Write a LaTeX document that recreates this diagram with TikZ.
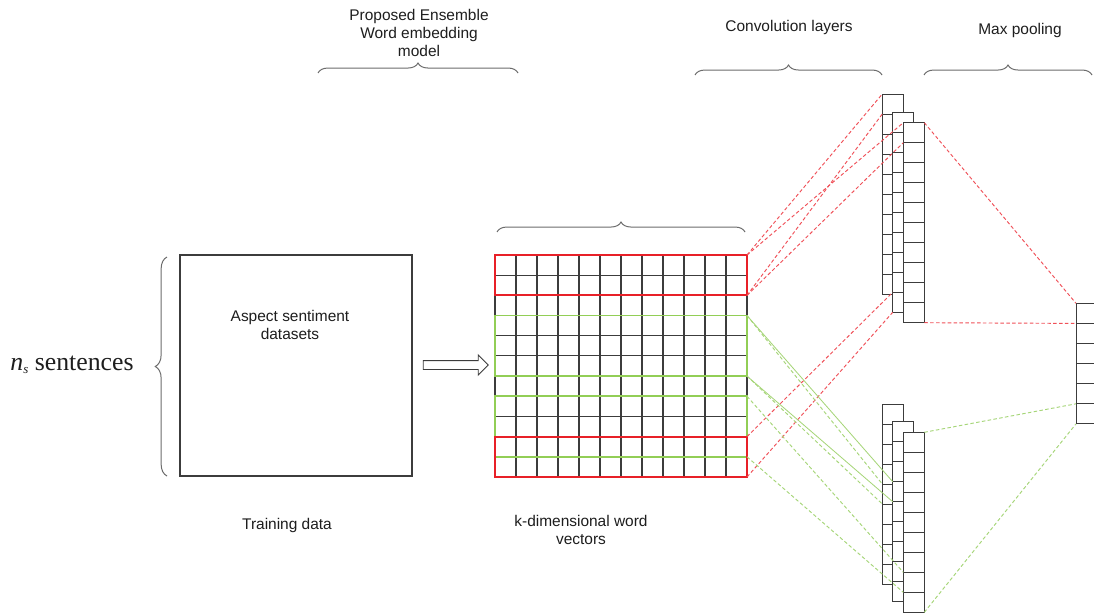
\documentclass[tikz,border=0pt]{standalone}
\usepackage{fontspec}
\setmainfont{Liberation Serif}
\setsansfont{Liberation Sans}
\usetikzlibrary{decorations.pathreplacing,shapes.arrows}
\definecolor{myred}{RGB}{232,32,40}
\definecolor{mygreen}{RGB}{146,206,86}
\definecolor{dred}{RGB}{240,80,88}
\definecolor{dgreen}{RGB}{166,214,120}
\definecolor{gridc}{RGB}{60,60,60}
\definecolor{txt}{RGB}{30,30,30}
\begin{document}
\begin{tikzpicture}[x=0.03cm,y=-0.03cm,
  lbl/.style={font=\sffamily\fontsize{13.2}{15.6}\selectfont, text=txt, align=center, inner sep=0},
  brc/.style={draw=gray!85!black, line width=0.85pt, decorate, decoration={brace,amplitude=8.5pt}},
  cellbox/.style={draw=gridc, fill=white, line width=0.85pt},
  gline/.style={draw=gridc, line width=1pt},
  redbox/.style={draw=myred, line width=1.5pt},
  greenbox/.style={draw=mygreen, line width=1.4pt},
  rdash/.style={draw=dred, dash pattern=on 3pt off 2pt, line width=0.8pt},
  gdash/.style={draw=dgreen, dash pattern=on 3pt off 2pt, line width=0.8pt},
  gsolid/.style={draw=dgreen, line width=0.7pt}]
\clip (0,0) rectangle (1094,615);
\fill[white] (0,0) rectangle (1094,615);

% ---- left: sentences, brace, training box
\node[font=\fontsize{22}{24}\selectfont, text=txt, inner sep=0] (ns) at (72,365) {\textit{n}\raisebox{-0.25ex}{\fontsize{11}{12}\selectfont\textit{s}} sentences};
\draw[brc, decoration={brace,amplitude=10pt}] (167,476) -- (167,257);
\node[draw=gridc, line width=1pt, minimum width=6.96cm, minimum height=6.63cm, inner sep=0] (train) at (296,365.5) {};
\node[lbl] (asp) at (290,325) {Aspect sentiment\\datasets};
\node[lbl] (trl) at (287,525) {Training data};

% ---- hollow arrow
\node[single arrow, draw=gridc, line width=0.8pt, fill=white, inner xsep=0pt, inner ysep=0.12cm,
      minimum height=1.95cm, minimum width=0.57cm, single arrow head extend=0.165cm] (arr) at (453.5,365) {};

% ---- matrix
\foreach \i in {0,...,12} \draw[gline] (495+21*\i,255) -- (495+21*\i,477);
\foreach \k in {0,...,11} {
  \draw[gline] (495,255+20.18*\k) -- (747,255+20.18*\k);
  \coordinate (r\k) at (747,255+20.18*\k);
  \coordinate (l\k) at (495,255+20.18*\k);
}
\draw[greenbox] (l3) rectangle (r6);
\draw[greenbox] (l7) rectangle (r10);
\draw[redbox] (l0) rectangle (r2);
\draw[redbox] (l9) rectangle (r11);
\draw[brc] (497,232) -- (745,232);
\node[lbl] (kdim) at (581,530) {k-dimensional word\\vectors};

% ---- convolution columns (top group)
\foreach \c/\x/\t in {1/882.3/94, 2/892.7/112.3, 3/903.3/122.7} {
  \foreach \k in {0,...,9} \draw[cellbox] (\x,\t+20*\k) rectangle ++(21,20);
  \foreach \k in {0,...,10} {
    \coordinate (T\c-\k) at (\x,\t+20*\k);
    \coordinate (TR\c-\k) at (\x+21,\t+20*\k);
  }
}
% ---- convolution columns (bottom group)
\foreach \c/\x/\t in {1/882.3/404, 2/892.7/421.7, 3/903.3/432.3} {
  \foreach \k in {0,...,8} \draw[cellbox] (\x,\t+20*\k) rectangle ++(21,20);
  \foreach \k in {0,...,9} {
    \coordinate (B\c-\k) at (\x,\t+20*\k);
    \coordinate (BR\c-\k) at (\x+21,\t+20*\k);
  }
}
% ---- max pooling column
\foreach \k in {0,...,5} \draw[cellbox] (1076,303.3+20.1*\k) rectangle ++(25,20.1);
\foreach \k in {0,...,6} \coordinate (P-\k) at (1076,303.3+20.1*\k);

% ---- connectors: matrix -> convolution
\draw[rdash] (r0) -- (T1-0);
\draw[rdash] (r0) -- (T3-0);
\draw[rdash] (r2) -- (T1-1);
\draw[rdash] (r2) -- (T3-1);
\draw[rdash] (r9) -- (T2-9);
\draw[rdash] (r11) -- (T2-10);
\draw[gsolid] (r3) -- (B2-3);
\draw[gdash] (r3) -- (B1-4);
\draw[gsolid] (r6) -- (B2-4);
\draw[gdash] (r6) -- (B1-5);
\draw[gdash] (r7) -- (B3-7);
\draw[gdash] (r10) -- (B3-8);

% ---- connectors: convolution -> max pooling
\draw[rdash] (TR3-0) -- (P-0);
\draw[rdash] (TR3-10) -- (P-1);
\draw[gdash] (BR3-0) -- (P-5);
\draw[gdash] (BR3-9) -- (P-6);

% ---- top braces and labels
\draw[brc] (318,73) -- (518,73);
\node[lbl] (ens) at (419,33) {Proposed Ensemble\\Word embedding\\model};
\draw[brc] (695,75) -- (882,75);
\node[lbl] (conv) at (789,28) {Convolution layers};
\draw[brc] (924,75) -- (1092,75);
\node[lbl] (maxp) at (1020,31) {Max pooling};
\end{tikzpicture}
\end{document}
